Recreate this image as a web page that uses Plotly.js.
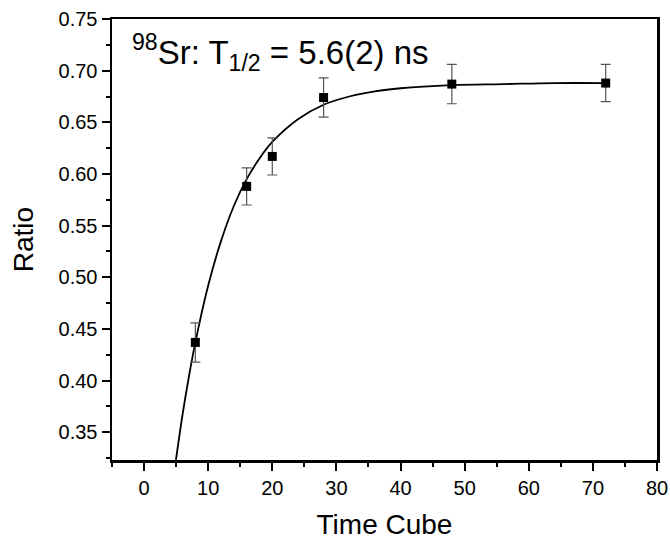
<!DOCTYPE html>
<html>
<head>
<meta charset="utf-8">
<script src="https://cdn.plot.ly/plotly-3.0.1.min.js"></script>
<style>html,body{margin:0;padding:0;background:#fff;}#chart{width:670px;height:542px;}</style>
</head>
<body>
<div id="chart"></div>
<script>
// Measured data points
const timeCube = [8, 16, 20, 28, 48, 72];
const ratio = [0.437, 0.588, 0.617, 0.674, 0.687, 0.688];
const ratioErr = [0.019, 0.018, 0.018, 0.019, 0.019, 0.018];

// Fit curve
const fitX = [4.97, 6, 7, 8, 10, 12, 14, 16, 18, 20, 24, 28, 32, 36, 40, 48, 56, 64, 72];
const fitY = [0.3232, 0.367, 0.404, 0.437, 0.492, 0.535, 0.569, 0.595, 0.615, 0.631, 0.653, 0.667, 0.675, 0.680, 0.683, 0.686, 0.687, 0.688, 0.688];

const xTicks = [0, 10, 20, 30, 40, 50, 60, 70, 80];
const yTicks = [0.35, 0.40, 0.45, 0.50, 0.55, 0.60, 0.65, 0.70, 0.75];

const font = 'Arial, "Liberation Sans", sans-serif';

const traces = [
  {
    x: fitX, y: fitY, type: 'scatter', mode: 'lines',
    line: {color: '#000', width: 1.8, shape: 'spline', smoothing: 1},
    hoverinfo: 'skip', showlegend: false
  },
  {
    x: timeCube, y: ratio, type: 'scatter', mode: 'markers',
    marker: {symbol: 'square', size: 9, color: '#000'},
    error_y: {type: 'data', array: ratioErr, visible: true, color: '#555', thickness: 1.2, width: 5},
    showlegend: false
  }
];

const axisCommon = {
  showline: true, linecolor: '#000', linewidth: 2.5, mirror: true,
  ticks: 'outside', ticklen: 8, tickwidth: 2, tickcolor: '#000',
  showgrid: false, zeroline: false,
  tickfont: {family: font, size: 20, color: '#000'}
};

const layout = {
  width: 670, height: 542,
  margin: {l: 112, r: 13, t: 19, b: 82},
  paper_bgcolor: '#fff', plot_bgcolor: '#fff',
  xaxis: Object.assign({}, axisCommon, {
    range: [-5, 80], tickvals: xTicks, ticktext: xTicks.map(String),
    minor: {dtick: 5, tick0: 0, ticks: 'outside', ticklen: 4, tickwidth: 2, tickcolor: '#000'},
    title: {text: 'Time Cube', font: {family: font, size: 28, color: '#000'}, standoff: 17}
  }),
  yaxis: Object.assign({}, axisCommon, {
    range: [0.3232, 0.75], tickvals: yTicks, ticktext: yTicks.map(v => v.toFixed(2)),
    minor: {dtick: 0.025, tick0: 0, ticks: 'outside', ticklen: 4, tickwidth: 2, tickcolor: '#000'},
    title: {text: 'Ratio', font: {family: font, size: 28, color: '#000'}, standoff: 17}
  }),
  annotations: [{
    xref: 'paper', yref: 'paper', x: 0.033, y: 0.982, xanchor: 'left', yanchor: 'top',
    text: '<sup>98</sup>Sr: T<sub>1/2</sub> = 5.6(2) ns', showarrow: false,
    font: {family: font, size: 33, color: '#000'}
  }]
};

Plotly.newPlot('chart', traces, layout, {displayModeBar: false, staticPlot: true});
</script>
</body>
</html>
